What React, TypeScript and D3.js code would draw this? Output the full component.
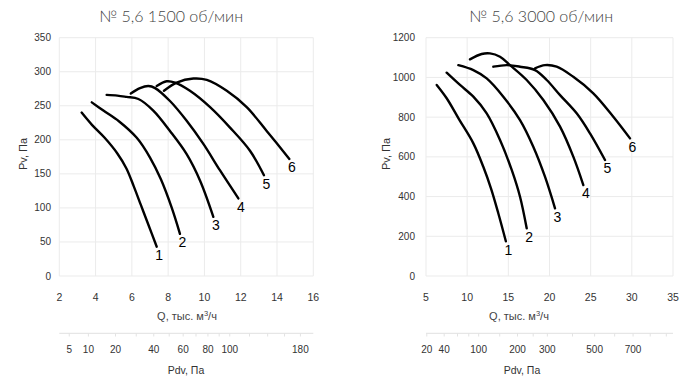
import React from "react";
import * as d3 from "d3";

type Pt = [number, number];

// ---- Left chart: № 5,6 1500 об/мин ----
const leftTitle = "№ 5,6 1500 об/мин";
const leftXTicks = [2, 4, 6, 8, 10, 12, 14, 16];
const leftYTicks = [0, 50, 100, 150, 200, 250, 300, 350];
const leftPdvLabels = [5, 10, 20, 40, 60, 80, 100, 180];
const leftPdvMinor = [5, 10, 20, 30, 40, 50, 60, 70, 80, 90, 100, 120, 140, 160, 180];
const left1: Pt[] = [[3.23, 240], [3.8, 222], [4.5, 203], [5.2, 180], [5.7, 158], [6.1, 132], [6.5, 104], [6.9, 76], [7.37, 43]];
const left2: Pt[] = [[3.79, 255], [4.43, 243], [5.3, 227], [6.27, 203], [7.0, 174], [7.6, 142], [8.2, 100], [8.65, 62]];
const left3: Pt[] = [[4.61, 266], [5.2, 265], [5.71, 263], [6.36, 260], [7.18, 243], [8.1, 213], [9.02, 179], [9.76, 140], [10.49, 87]];
const left4: Pt[] = [[5.94, 268], [6.45, 276], [6.91, 279], [7.28, 276], [8.1, 257], [9.02, 228], [9.94, 194], [10.86, 155], [11.87, 114]];
const left5: Pt[] = [[7.37, 279], [7.92, 286], [8.38, 284], [9.2, 272], [10.31, 248], [11.41, 218], [12.51, 184], [13.28, 148]];
const left6: Pt[] = [[7.77, 272], [8.47, 284], [9.39, 290], [10.13, 288], [11.23, 272], [12.33, 248], [13.43, 213], [14.68, 172]];

// ---- Right chart: № 5,6 3000 об/мин ----
const rightTitle = "№ 5,6 3000 об/мин";
const rightXTicks = [5, 10, 15, 20, 25, 30, 35];
const rightYTicks = [0, 200, 400, 600, 800, 1000, 1200];
const rightPdvLabels = [20, 40, 100, 200, 300, 500, 700];
const rightPdvMinor = [20, 40, 60, 80, 100, 150, 200, 250, 300, 400, 500, 600, 700, 800, 900];
const right1: Pt[] = [[6.3, 962], [7.51, 895], [9.0, 790], [10.75, 668], [11.96, 550], [12.9, 440], [13.78, 316], [14.7, 175]];
const right2: Pt[] = [[7.51, 1024], [9.13, 962], [10.75, 903], [12.37, 819], [13.99, 685], [15.41, 534], [16.42, 399], [17.23, 240]];
const right3: Pt[] = [[8.93, 1062], [10.75, 1037], [12.37, 995], [14.39, 903], [16.42, 785], [18.03, 651], [19.45, 500], [20.67, 341]];
const right4: Pt[] = [[10.34, 1091], [11.76, 1118], [12.77, 1121], [13.99, 1104], [15.2, 1062], [17.23, 987], [19.25, 886], [21.28, 752], [22.89, 601], [24.11, 458]];
const right5: Pt[] = [[13.18, 1054], [14.8, 1062], [16.42, 1054], [18.24, 1037], [19.66, 987], [21.28, 911], [23.3, 819], [24.92, 718], [26.74, 584]];
const right6: Pt[] = [[18.24, 1046], [19.45, 1062], [20.87, 1054], [22.89, 1003], [25.32, 920], [27.75, 802], [29.78, 693]];

const curveNames = ["1", "2", "3", "4", "5", "6"];
// dynamic pressure coefficient: Pdv = k * Q^2
const pdvK = 0.77;

const FONT = "'Liberation Sans', Arial, sans-serif";

interface ChartProps {
  title: string;
  xDomain: [number, number];
  yDomain: [number, number];
  xRange: [number, number];
  xTicks: number[];
  yTicks: number[];
  pdvLabels: number[];
  pdvMinor: number[];
  curves: Pt[][];
  yLabelX: number;
  yTickRight: number;
  titleX: number;
  qTitleX: number;
  pdvTitleX: number;
}

function Chart(p: ChartProps) {
  const x = d3.scaleLinear().domain(p.xDomain).range(p.xRange);
  const y = d3.scaleLinear().domain(p.yDomain).range([276, 37.7]);
  const line = d3
    .line<Pt>()
    .x((d) => x(d[0]))
    .y((d) => y(d[1]))
    .curve(d3.curveCatmullRom.alpha(0.5));
  const pdvX = (v: number) => x(Math.sqrt(v / pdvK));
  const [x0, x1] = p.xRange;
  const grid = "#ebebeb";
  return (
    <g>
      <text x={p.titleX} y={21.5} textAnchor="middle" fontFamily="Lato, 'Open Sans', sans-serif" fontWeight={300} fontSize={16} fill="#444">
        {p.title}
      </text>
      {p.yTicks.map((t) => (
        <line key={"gy" + t} x1={x0} x2={x1} y1={y(t)} y2={y(t)} stroke={grid} strokeWidth={1} />
      ))}
      {p.xTicks.map((t) => (
        <line key={"gx" + t} x1={x(t)} x2={x(t)} y1={y(p.yDomain[0])} y2={y(p.yDomain[1])} stroke={grid} strokeWidth={1} />
      ))}
      {p.yTicks.map((t) => (
        <text key={"ty" + t} x={p.yTickRight} y={y(t)} dy="0.35em" textAnchor="end" fontFamily={FONT} fontSize={10} fill="#333">
          {t}
        </text>
      ))}
      {p.xTicks.map((t) => (
        <text key={"tx" + t} x={x(t)} y={297} dy="0.35em" textAnchor="middle" fontFamily={FONT} fontSize={10.5} fill="#333">
          {t}
        </text>
      ))}
      <text transform={`translate(${p.yLabelX},154) rotate(-90)`} textAnchor="middle" dy="0.35em" fontFamily={FONT} fontSize={11} fill="#333">
        Pv, Па
      </text>
      <text x={p.qTitleX} y={316} dy="0.35em" textAnchor="middle" fontFamily={FONT} fontSize={11} fill="#444">
        Q, тыс. м<tspan fontSize={7.5} dy="-4">3</tspan>
        <tspan dy="4">/ч</tspan>
      </text>
      {p.curves.map((c, i) => (
        <path key={"c" + i} d={line(c) || ""} fill="none" stroke="#000" strokeWidth={2.4} strokeLinecap="round" />
      ))}
      {p.curves.map((c, i) => {
        const e = c[c.length - 1];
        return (
          <text key={"l" + i} x={x(e[0]) + 2.5} y={y(e[1]) + 8.5} dy="0.35em" textAnchor="middle" fontFamily={FONT} fontSize={14} fill="#000">
            {curveNames[i]}
          </text>
        );
      })}
      <line x1={x0} x2={x1} y1={333.3} y2={333.3} stroke="#e6e6e6" strokeWidth={1.2} />
      {p.pdvMinor.map((v) =>
        pdvX(v) <= x1 + 0.5 ? (
          <line key={"pm" + v} x1={pdvX(v)} x2={pdvX(v)} y1={333.3} y2={336.5} stroke="#e3e3e3" strokeWidth={1} />
        ) : null
      )}
      {p.pdvLabels.map((v) => (
        <text key={"pl" + v} x={pdvX(v)} y={349} dy="0.35em" textAnchor="middle" fontFamily={FONT} fontSize={10} fill="#333">
          {v}
        </text>
      ))}
      <text x={p.pdvTitleX} y={370} dy="0.35em" textAnchor="middle" fontFamily={FONT} fontSize={10.5} fill="#333">
        Pdv, Па
      </text>
    </g>
  );
}

export default function App() {
  return (
    <svg width={700} height={382} style={{ display: "block", position: "absolute", left: 0, top: 0 }}>
      <rect width={700} height={382} fill="#fff" />
      <Chart
        title={leftTitle}
        xDomain={[2, 16]}
        yDomain={[0, 350]}
        xRange={[59.3, 313.3]}
        xTicks={leftXTicks}
        yTicks={leftYTicks}
        pdvLabels={leftPdvLabels}
        pdvMinor={leftPdvMinor}
        curves={[left1, left2, left3, left4, left5, left6]}
        yLabelX={23}
        yTickRight={51}
        titleX={171}
        qTitleX={187}
        pdvTitleX={186}
      />
      <Chart
        title={rightTitle}
        xDomain={[5, 35]}
        yDomain={[0, 1200]}
        xRange={[426, 673]}
        xTicks={rightXTicks}
        yTicks={rightYTicks}
        pdvLabels={rightPdvLabels}
        pdvMinor={rightPdvMinor}
        curves={[right1, right2, right3, right4, right5, right6]}
        yLabelX={386}
        yTickRight={415}
        titleX={541}
        qTitleX={519}
        pdvTitleX={522}
      />
    </svg>
  );
}
